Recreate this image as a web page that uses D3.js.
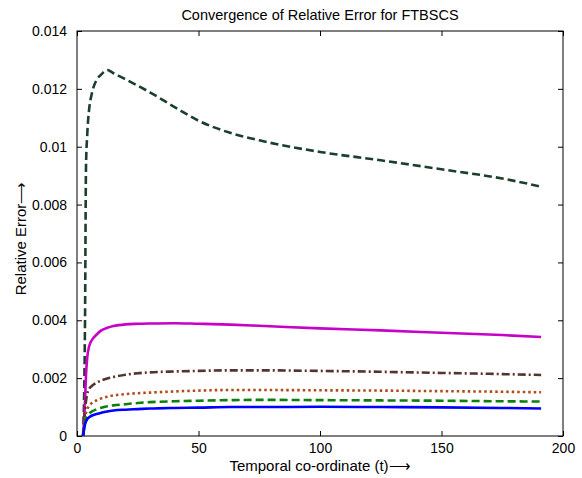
<!DOCTYPE html>
<html>
<head>
<meta charset="utf-8">
<script src="https://cdn.jsdelivr.net/npm/d3@7"></script>
<style>
  body { margin: 0; background: #fff; }
  svg text { font-family: "Liberation Sans", Arial, sans-serif; fill: #000; }
</style>
</head>
<body>
<svg id="chart" width="582" height="478"></svg>
<script>
// time samples (shared by all series)
const tVals = [2.5, 3.3, 3.7, 4.2, 5, 6, 8, 10, 12.5, 15, 20, 25, 30, 40, 50, 63, 75, 100, 125, 150, 175, 191];

const errDarkGreen = [0, 0.004, 0.0093, 0.0104, 0.0113, 0.0118, 0.0123, 0.0125, 0.01265, 0.01254, 0.01233, 0.01211, 0.01188, 0.01138, 0.0109, 0.01048, 0.01022, 0.00982, 0.00953, 0.00922, 0.0089, 0.00862];
const errMagenta = [0, 0.0012, 0.0021, 0.0027, 0.0031, 0.0033, 0.0035, 0.00365, 0.00374, 0.0038, 0.00386, 0.00388, 0.00389, 0.0039, 0.00388, 0.00385, 0.00381, 0.00372, 0.00365, 0.00357, 0.00349, 0.00342];
const errBrown = [0, 0.0009, 0.0012, 0.00145, 0.00163, 0.00172, 0.00184, 0.00192, 0.00199, 0.00204, 0.00212, 0.00217, 0.0022, 0.00223, 0.00225, 0.00227, 0.00227, 0.00225, 0.00222, 0.00218, 0.00214, 0.00211];
const errOrange = [0, 0.0006, 0.0008, 0.00092, 0.00105, 0.00113, 0.00123, 0.0013, 0.00136, 0.0014, 0.00145, 0.00148, 0.0015, 0.00154, 0.00157, 0.00159, 0.00159, 0.00158, 0.00157, 0.00155, 0.00153, 0.00151];
const errGreen = [0, 0.0005, 0.0006, 0.00068, 0.00078, 0.00084, 0.00092, 0.00098, 0.00103, 0.00106, 0.0011, 0.00114, 0.00117, 0.0012, 0.00122, 0.00124, 0.00125, 0.00124, 0.00123, 0.00122, 0.0012, 0.00119];
const errBlue = [0, 0.0004, 0.0005, 0.00058, 0.00065, 0.0007, 0.00076, 0.0008, 0.00085, 0.00088, 0.00091, 0.00093, 0.00095, 0.00097, 0.00098, 0.001, 0.001, 0.00101, 0.001, 0.00099, 0.00097, 0.00095];

const xTicks = [0, 50, 100, 150, 200];
const yTicks = [0, 0.002, 0.004, 0.006, 0.008, 0.01, 0.012, 0.014];
const yTickLabels = ["0", "0.002", "0.004", "0.006", "0.008", "0.01", "0.012", "0.014"];

const series = [
  { vals: errDarkGreen, color: "#1b3f2b", dash: "8,4" },
  { vals: errMagenta, color: "#c800c8", dash: null },
  { vals: errBrown, color: "#55332f", dash: "8,3,2,3" },
  { vals: errOrange, color: "#b04a18", dash: "2.5,3" },
  { vals: errGreen, color: "#0b800b", dash: "8,4" },
  { vals: errBlue, color: "#0000ff", dash: null }
];

const svg = d3.select("#chart");
const mLeft = 77, mRight = 563, mTop = 31, mBottom = 436;

const x = d3.scaleLinear().domain([0, 200]).range([mLeft, mRight]);
const y = d3.scaleLinear().domain([0, 0.014]).range([mBottom, mTop]);

// box
svg.append("rect")
  .attr("x", mLeft).attr("y", mTop)
  .attr("width", mRight - mLeft).attr("height", mBottom - mTop)
  .attr("fill", "#fff").attr("stroke", "#000").attr("stroke-width", 1);

// axes with inward ticks
const xAxis = svg.append("g").attr("transform", `translate(0,${mBottom})`)
  .call(d3.axisBottom(x).tickValues(xTicks).tickSizeInner(-5).tickSizeOuter(0).tickPadding(7));
const xTop = svg.append("g").attr("transform", `translate(0,${mTop})`)
  .call(d3.axisTop(x).tickValues(xTicks).tickSizeInner(-5).tickSizeOuter(0).tickFormat(""));
const yAxis = svg.append("g").attr("transform", `translate(${mLeft},0)`)
  .call(d3.axisLeft(y).tickValues(yTicks).tickSizeInner(-5).tickSizeOuter(0).tickPadding(10)
    .tickFormat((d, i) => yTickLabels[i]));
const yRight = svg.append("g").attr("transform", `translate(${mRight},0)`)
  .call(d3.axisRight(y).tickValues(yTicks).tickSizeInner(-5).tickSizeOuter(0).tickFormat(""));

[xAxis, xTop, yAxis, yRight].forEach(g => {
  g.select(".domain").remove();
  g.selectAll("line").attr("stroke", "#000");
  g.selectAll("text").style("font-size", "14px").style("font-family", "Liberation Sans, Arial, sans-serif");
});

// lines
const line = d3.line()
  .x((d, i) => x(tVals[i]))
  .y(d => y(d))
  .curve(d3.curveMonotoneX);

const plot = svg.append("g");
series.forEach(s => {
  plot.append("path")
    .datum(s.vals)
    .attr("d", line)
    .attr("fill", "none")
    .attr("stroke", s.color)
    .attr("stroke-width", 2.6)
    .attr("stroke-dasharray", s.dash);
});

// titles
svg.append("text")
  .attr("x", (mLeft + mRight) / 2).attr("y", 20)
  .attr("text-anchor", "middle").style("font-size", "14.5px")
  .text("Convergence of Relative Error for FTBSCS");

svg.append("text")
  .attr("x", (mLeft + mRight) / 2).attr("y", 471)
  .attr("text-anchor", "middle").style("font-size", "15px")
  .text("Temporal co-ordinate (t)\u27F6");

svg.append("text")
  .attr("transform", `translate(26,${(mTop + mBottom) / 2 + 5}) rotate(-90)`)
  .attr("text-anchor", "middle").style("font-size", "15px")
  .text("Relative Error\u27F6");
</script>
</body>
</html>
